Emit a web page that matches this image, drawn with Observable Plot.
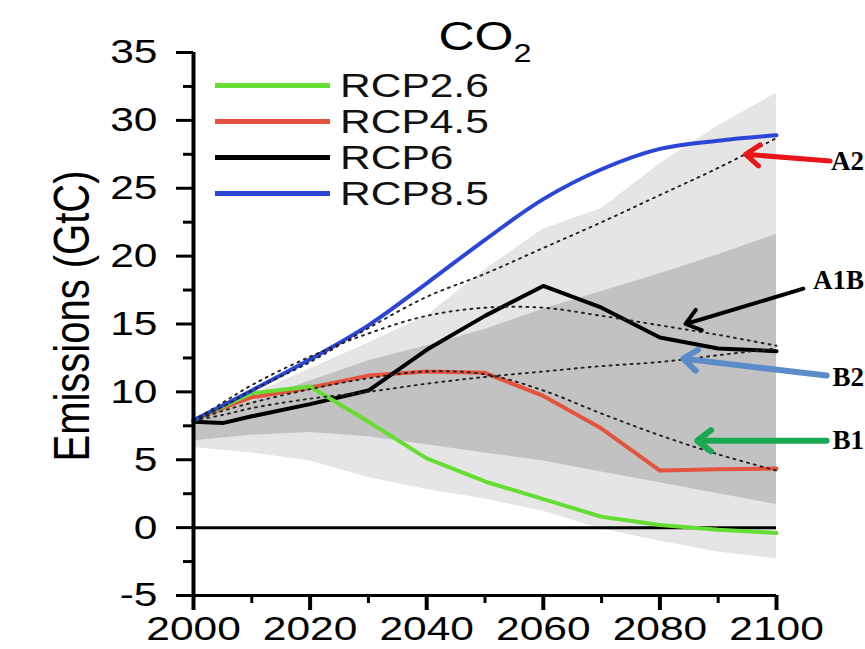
<!DOCTYPE html>
<html>
<head>
<meta charset="utf-8">
<script src="https://cdn.jsdelivr.net/npm/d3@7"></script>
<script src="https://cdn.jsdelivr.net/npm/@observablehq/plot@0.6"></script>
<style>
  body { margin: 0; background: #fff; }
  #chart { position: relative; width: 865px; height: 649px; overflow: hidden; background: #fff; }
  #legend { position: absolute; left: 215px; top: 67px; font-family: 'Liberation Sans', Arial, sans-serif; }
  .row { height: 36px; display: flex; align-items: center; }
  .swatch { width: 115px; height: 5px; }
  .name { font-size: 34px; line-height: 36px; margin-left: 10px; color: #111;
          transform: scaleX(1.25); transform-origin: left center; white-space: nowrap; }
</style>
</head>
<body>
<div id="chart"></div>
<script>
// Sample years shared by every series and band
const years = [2000, 2005, 2010, 2020, 2030, 2040, 2050, 2060, 2070, 2080, 2090, 2100];

// RCP emission pathways (GtC)
const rcp26 = [7.9, 8.9, 9.9, 10.4, 7.8, 5.1, 3.4, 2.1, 0.8, 0.2, -0.15, -0.4];
const rcp45 = [7.9, 8.8, 9.6, 10.3, 11.2, 11.5, 11.4, 9.7, 7.3, 4.2, 4.3, 4.35];
const rcp6  = [7.8, 7.7, 8.2, 9.1, 10.1, 13.1, 15.6, 17.8, 16.2, 14.0, 13.2, 13.0];
const rcp85 = [7.9, 9.0, 10.1, 12.4, 14.9, 18.0, 21.2, 24.2, 26.4, 27.9, 28.5, 28.9];

// SRES marker scenarios (dotted)
const sresA2  = [7.9, 8.9, 10.1, 12.2, 14.7, 17.0, 18.7, 20.6, 22.5, 24.5, 26.5, 28.7];
const sresA1B = [7.9, 9.2, 10.5, 12.6, 14.3, 15.6, 16.2, 16.2, 15.6, 14.9, 14.2, 13.4];
const sresB2  = [7.9, 8.3, 8.8, 9.5, 10.0, 10.6, 11.1, 11.5, 11.9, 12.2, 12.7, 13.2];
const sresB1  = [7.9, 8.6, 9.2, 10.2, 11.0, 11.5, 11.3, 10.1, 8.4, 6.8, 5.4, 4.2];

// Literature ranges: outer (light) and inner (dark) bands
const outerLow  = [5.9, 5.7, 5.5, 4.9, 3.7, 2.8, 2.1, 1.2, -0.1, -1.0, -1.8, -2.3];
const outerHigh = [8.0, 8.9, 9.8, 11.7, 13.6, 15.6, 19.0, 22.0, 23.5, 26.8, 29.6, 32.0];
const innerLow  = [6.4, 6.6, 6.8, 7.0, 6.7, 6.1, 5.5, 4.9, 4.1, 3.3, 2.5, 1.7];
const innerHigh = [8.0, 8.6, 9.3, 10.8, 12.3, 13.4, 14.6, 16.1, 17.4, 18.7, 20.1, 21.6];

// Axis ticks
const yMajorTicks = [-5, 0, 5, 10, 15, 20, 25, 30, 35];
const yMinorTicks = [-2.5, 2.5, 7.5, 12.5, 17.5, 22.5, 27.5, 32.5];
const xMajorTicks = [2000, 2020, 2040, 2060, 2080, 2100];
const xMinorTicks = [2010, 2030, 2050, 2070, 2090];

// Legend entries
const rcpNames = ["RCP2.6", "RCP4.5", "RCP6", "RCP8.5"];
const rcpColors = ["#66dd33", "#e4533d", "#000000", "#2b46d6"];

// SRES callouts: label, arrow tip on the dotted curve, arrow tail near the label
const calloutLabels = ["A2", "A1B", "B2", "B1"];
const calloutTipYear = [2094.7, 2084.4, 2084.0, 2086.4];
const calloutTipValue = [27.5, 15.0, 12.45, 6.4];
const calloutTailYear = [2109.2, 2104.6, 2108.6, 2108.6];
const calloutTailValue = [27.0, 17.6, 11.2, 6.4];
const calloutLabelYear = [2115.0, 2115.0, 2115.0, 2115.0];
const calloutLabelValue = [27.0, 18.2, 11.05, 6.4];
const calloutColors = ["#e8161b", "#000000", "#5b8bc9", "#1aa851"];
const calloutWidths = [5, 4, 6, 6];

const series = (vals, name) => years.map((year, i) => ({year, value: vals[i], name}));
const bands = years.map((year, i) => ({year, outerLow: outerLow[i], outerHigh: outerHigh[i], innerLow: innerLow[i], innerHigh: innerHigh[i]}));
const sres = [...series(sresA2, "A2"), ...series(sresA1B, "A1B"), ...series(sresB2, "B2"), ...series(sresB1, "B1")];
const rcpValues = [rcp26, rcp45, rcp6, rcp85];
const callouts = calloutLabels.map((label, i) => ({
  label, tipYear: calloutTipYear[i], tipValue: calloutTipValue[i],
  tailYear: calloutTailYear[i], tailValue: calloutTailValue[i],
  labelYear: calloutLabelYear[i], labelValue: calloutLabelValue[i]
}));

// draw order: RCP4.5, RCP6, RCP2.6, RCP8.5 (blue on top, smooth)
const drawOrder = [1, 2, 0, 3];
const rcpMarks = drawOrder.map(k => Plot.line(series(rcpValues[k], rcpNames[k]), {
  x: "year", y: "value", stroke: rcpColors[k], strokeWidth: 4,
  curve: k === 3 ? "catmull-rom" : "linear", strokeLinejoin: "round"
}));

// arrow wings are about 17px long whatever the stroke width
const calloutMarks = callouts.flatMap((c, i) => [
  Plot.arrow([c], {x1: "tailYear", y1: "tailValue", x2: "tipYear", y2: "tipValue",
    stroke: calloutColors[i], strokeWidth: calloutWidths[i], headLength: 26 / calloutWidths[i], headAngle: 75}),
  Plot.text([c], {x: "labelYear", y: "labelValue", text: "label", textAnchor: "end",
    fontFamily: "'Liberation Serif', 'Times New Roman', serif", fontWeight: "bold", fontSize: 27, fill: "#000"})
]);

const plot = Plot.plot({
  width: 865, height: 649,
  marginLeft: 193, marginRight: 89, marginTop: 52, marginBottom: 54,
  x: {domain: [2000, 2100]},
  y: {domain: [-5, 35]},
  style: {fontFamily: "'Liberation Sans', Arial, sans-serif", background: "#fff", color: "#000"},
  marks: [
    Plot.areaY(bands, {x: "year", y1: "outerLow", y2: "outerHigh", fill: "#e5e5e5"}),
    Plot.areaY(bands, {x: "year", y1: "innerLow", y2: "innerHigh", fill: "#c2c2c2"}),
    Plot.ruleY([0], {stroke: "#000", strokeWidth: 3}),
    ...rcpMarks,
    Plot.line(sres, {x: "year", y: "value", z: "name", stroke: "#222", strokeWidth: 1.9,
      strokeDasharray: "2,5", curve: "catmull-rom"}),
    // axes
    Plot.axisY(yMajorTicks, {tickSize: 17, tickPadding: 19, strokeWidth: 3, fontSize: 34,
      tickFormat: d => String(d), label: null}),
    Plot.axisY(yMinorTicks, {tickSize: 10, strokeWidth: 3, text: null, label: null}),
    Plot.axisX(xMajorTicks, {tickSize: 15, tickPadding: 5, strokeWidth: 4, fontSize: 34,
      tickFormat: d => String(d), label: null}),
    Plot.axisX(xMinorTicks, {tickSize: 8, strokeWidth: 3, text: null, label: null}),
    Plot.ruleX([2000], {stroke: "#000", strokeWidth: 4}),
    Plot.ruleY([-5], {stroke: "#000", strokeWidth: 3}),
    ...calloutMarks,
    Plot.text(["CO"], {frameAnchor: "top", dy: -31, fontSize: 40, fill: "#000"}),
    Plot.text(["Emissions (GtC)"], {frameAnchor: "left", textAnchor: "middle", rotate: -90,
      dx: -121, dy: -8, fontSize: 40, fill: "#000"})
  ]
});

const chart = document.getElementById("chart");
chart.appendChild(plot);

// subscript for the title
const svg = d3.select(plot);
svg.selectAll("text").filter(function() { return this.textContent === "CO"; })
  .append("tspan").attr("font-size", 26).attr("dy", "0.45em").text("2");

// wide sans-serif letterforms: stretch those labels horizontally about their anchor
svg.selectAll("text").each(function() {
  if (this.closest('[font-family*="Serif"]')) return;
  const t = this.getAttribute("transform") || "";
  if (/rotate/.test(t)) this.setAttribute("transform", t.replace("rotate", "scale(1.25,1) rotate"));
  else if (t) this.setAttribute("transform", t + " scale(1.25,1)");
  else {
    const x = +this.getAttribute("x") || 0, y = +this.getAttribute("y") || 0;
    this.setAttribute("transform", `translate(${x},${y}) scale(1.25,1) translate(${-x},${-y})`);
  }
});

// legend inside the plotting area
const legend = d3.select(chart).append("div").attr("id", "legend");
rcpNames.forEach((name, i) => {
  const row = legend.append("div").attr("class", "row");
  row.append("div").attr("class", "swatch").style("background", rcpColors[i]);
  row.append("div").attr("class", "name").text(name);
});
</script>
</body>
</html>
